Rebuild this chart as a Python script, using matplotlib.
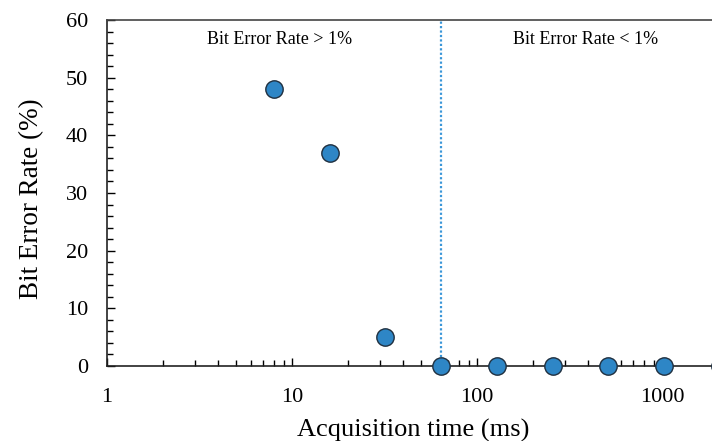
import matplotlib
matplotlib.use("Agg")
import matplotlib.pyplot as plt
from matplotlib.ticker import LogLocator, FixedLocator, NullFormatter, MultipleLocator
import numpy as np

acq_time_ms = [8, 16, 32, 64, 128, 256, 512, 1024, 2048]
ber_percent = [48, 37, 5, 0, 0, 0, 0, 0, 0]
threshold_ms = 64
x_ticks = [1, 10, 100, 1000]
x_tick_labels = ["1", "10", "100", "1000"]
y_ticks = [0, 10, 20, 30, 40, 50, 60]
label_left = "Bit Error Rate > 1%"
label_right = "Bit Error Rate < 1%"

plt.rcParams['font.family'] = ['Liberation Serif', 'DejaVu Serif']

W, H = 712, 441
fig = plt.figure(figsize=(W / 100, H / 100), dpi=100)
decade_px = 185.0
x0, y0, y1 = 107, 366, 20
xmax_dec = 3.6
ax_w = xmax_dec * decade_px
ax_h = y0 - y1
ax = fig.add_axes([x0 / W, (H - y0) / H, ax_w / W, ax_h / H])
ax.set_xscale('log')
ax.set_xlim(1, 10 ** xmax_dec)
ax.set_ylim(0, 60)

ax.axvline(threshold_ms, color='#3a96d8', linestyle=(0, (1, 1)), linewidth=1.6, zorder=2)
ax.plot(acq_time_ms, ber_percent, linestyle='none', marker='o', markersize=12.5,
        markerfacecolor='#2e86c6', markeredgecolor='#1f2f3f', markeredgewidth=1.0,
        clip_on=False, zorder=3)

ax.text((280 - x0) / ax_w, (y0 - 39) / ax_h, label_left,
        transform=ax.transAxes, ha='center', va='center', fontsize=13)
ax.text((586 - x0) / ax_w, (y0 - 39) / ax_h, label_right,
        transform=ax.transAxes, ha='center', va='center', fontsize=13)

ax.xaxis.set_major_locator(FixedLocator(x_ticks))
ax.set_xticklabels(x_tick_labels)
ax.xaxis.set_minor_locator(LogLocator(base=10, subs=np.arange(2, 10)))
ax.xaxis.set_minor_formatter(NullFormatter())
ax.set_yticks(y_ticks)
ax.yaxis.set_minor_locator(MultipleLocator(2))

ax.tick_params(axis='both', which='major', direction='in', length=6, width=1,
               labelsize=16, colors='black')
ax.tick_params(axis='both', which='minor', direction='in', length=4.5, width=1)
ax.tick_params(axis='x', which='major', pad=15.5)
ax.tick_params(axis='y', which='major', pad=13.5)

for s in ['left', 'bottom']:
    ax.spines[s].set_linewidth(1.2)
    ax.spines[s].set_color('#222222')
ax.spines['top'].set_linewidth(1.2)
ax.spines['top'].set_color('#444444')
ax.spines['right'].set_visible(False)

ax.set_xlabel("Acquisition time (ms)", fontsize=19)
ax.set_ylabel("Bit Error Rate (%)", fontsize=19.5)
ax.xaxis.set_label_coords((413 - x0) / ax_w, (y0 - 419) / ax_h)
ax.yaxis.set_label_coords((44 - x0) / ax_w, (y0 - 199) / ax_h)

fig.savefig("out.png", dpi=100)
